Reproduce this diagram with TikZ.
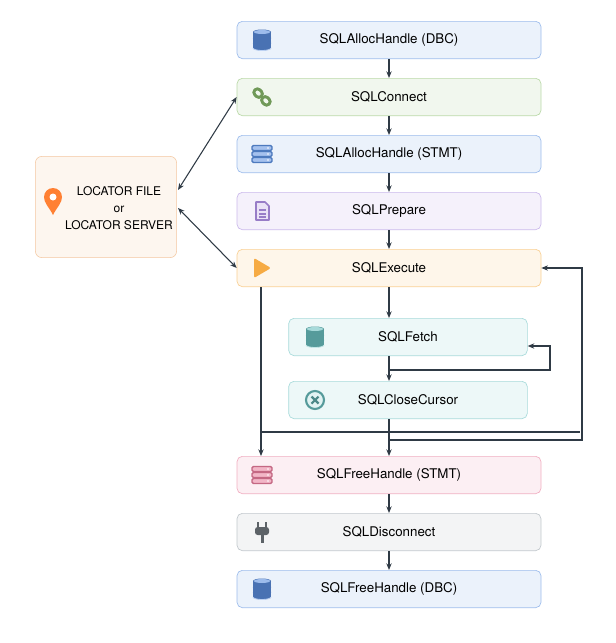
\documentclass[tikz,border=0pt]{standalone}
\usepackage{fontspec}
\setmainfont{TeX Gyre Heros}
\usetikzlibrary{arrows.meta,shapes.geometric}
\definecolor{ln}{HTML}{2F3A45}
\begin{document}
\begin{tikzpicture}[x=0.75pt,y=-0.75pt,
 box/.style={draw=#1!60!white,fill=#1!12!white,rounded corners=4pt,minimum width=228pt,minimum height=28pt,line width=0.5pt,font=\fontsize{10}{12}\selectfont},
 sbox/.style={box=#1,minimum width=179pt},
 arr/.style={-{Stealth[length=5pt,width=4pt]},draw=ln,line width=0.8pt},
 darr/.style={{Stealth[length=5pt,width=4pt]}-{Stealth[length=5pt,width=4pt]},draw=ln,line width=0.8pt},
 ln/.style={draw=ln,line width=0.8pt}]
\useasboundingbox (0,0) rectangle (616,643);
\definecolor{cb}{HTML}{5B8FE0}\definecolor{cg}{HTML}{8CBF6E}\definecolor{cp}{HTML}{A98BDD}
\definecolor{co}{HTML}{F5B04C}\definecolor{ct}{HTML}{6CC2C2}\definecolor{ck}{HTML}{E77A9A}
\definecolor{cy}{HTML}{9AA3AC}\definecolor{cl}{HTML}{F0B07A}
\node[box=cb] (dbc) at (389,40) {SQLAllocHandle (DBC)};
\node[box=cg] (con) at (389,97) {SQLConnect};
\node[box=cb] (stmt) at (389,154) {SQLAllocHandle (STMT)};
\node[box=cp] (prep) at (389,211) {SQLPrepare};
\node[box=co] (exe) at (389,268) {SQLExecute};
\node[sbox=ct] (fetch) at (408,337) {SQLFetch};
\node[sbox=ct] (close) at (408,400) {SQLCloseCursor};
\node[box=ck] (fst) at (389,475) {SQLFreeHandle (STMT)};
\node[box=cy] (disc) at (389,532) {SQLDisconnect};
\node[box=cb] (fdbc) at (389,589) {SQLFreeHandle (DBC)};
\node[draw=cl!70!white,fill=cl!12!white,rounded corners=5pt,minimum width=106pt,minimum height=76pt,inner sep=0pt,font=\fontsize{9}{13}\selectfont] (loc) at (106,207) {};
\node[align=center,font=\fontsize{9}{13}\selectfont,inner sep=0pt] (loct) at (119,208) {LOCATOR FILE\\or\\LOCATOR SERVER};
% icons
\newcommand\dbicon[3]{\begin{scope}[shift={(#1,#2)}]
 \foreach \yy in {-5,0,5}{\fill[#3!80!black] (-9,\yy-3) rectangle (9,\yy+3);\fill[#3!80!black] (0,\yy+3) ellipse (9 and 2.5);\fill[#3!80!black] (0,\yy-3) ellipse (9 and 2.5);\draw[#3!40!white,line width=0.6pt] (-9,\yy+3) arc (180:0:9 and 2.5);}
 \fill[#3!60!white] (0,-8) ellipse (8 and 2);\end{scope}}
\newcommand\srvicon[3]{\begin{scope}[shift={(#1,#2)}]
 \foreach \yy in {-7,-1,5}{\draw[#3!85!black,fill=#3!55!white,line width=1pt,rounded corners=1pt] (-10,\yy-2.5) rectangle (10,\yy+2.5);\fill[white] (6,\yy) circle (0.9);}\end{scope}}
\dbicon{262}{40}{cb}
\srvicon{262}{155}{cb}
\dbicon{315}{337}{ct}
\dbicon{262}{589}{cb}
\srvicon{262}{476}{ck}
\begin{scope}[shift={(262,97)},rotate=45,line width=2.2pt,draw=cg!80!black]
 \draw[cg!80!black,rounded corners=2.5pt] (-3.5,-1) rectangle (3.5,-10);
 \draw[cg!80!black,rounded corners=2.5pt] (-3.5,1) rectangle (3.5,10);
\end{scope}
\begin{scope}[shift={(262,211)}]
 \draw[cp!90!black,fill=cp!25!white,line width=1.2pt,line join=round] (-6,-9)--(3,-9)--(7,-5)--(7,9)--(-6,9)--cycle;
 \foreach \yy in {-1,3,6}\draw[cp!90!black,line width=1pt] (-3,\yy)--(4,\yy);
\end{scope}
\fill[co!90!orange,rounded corners=1.5pt] (254,258)--(271,268)--(254,278)--cycle;
\begin{scope}[shift={(315,400)}]
 \draw[ct!80!black,fill=ct!20!white,line width=1.6pt] (0,0) circle (9);
 \draw[ct!70!black,line width=1.6pt] (-3.5,-3.5)--(3.5,3.5) (-3.5,3.5)--(3.5,-3.5);
\end{scope}
\begin{scope}[shift={(262,532)},cy!60!black]
 \fill (-5,-10) rectangle (-3,-4); \fill (3,-10) rectangle (5,-4);
 \fill[rounded corners=2pt] (-7,-5) rectangle (7,3); \fill (-1.5,3) rectangle (1.5,11);
\end{scope}
\begin{scope}[shift={(53,201)}]
 \fill[orange!75!red!80!white] (0,14) .. controls (-4,6) and (-9,2) .. (-9,-4) arc (180:360:9) .. controls (9,2) and (4,6) .. (0,14);
 \fill[white] (0,-4) circle (3.5);
\end{scope}
% connectors
\foreach \a/\b in {dbc/con,con/stmt,stmt/prep,prep/exe,exe/fetch,fetch/close,disc/fdbc,fst/disc}
 \draw[arr] (\a.south -| 389,0) -- (\b.north -| 389,0);
\draw[darr] (178,190) -- (con.west);
\draw[darr] (178,208) -- (exe.west);
\draw[arr] (261,287) coordinate (e1) -- (fst.north -| e1);
\draw[arr] (close.south -| 389,0) -- (fst.north -| 389,0);
\draw[arr] (389,370) coordinate (f1) -- (550,370) -- (550,346) -- (fetch.east |- 0,346);
\draw[ln] (261,432) -- (580,432);
\draw[arr] (389,440) -- (582,440) -- (582,268) -- (exe.east);
\end{tikzpicture}
\end{document}
